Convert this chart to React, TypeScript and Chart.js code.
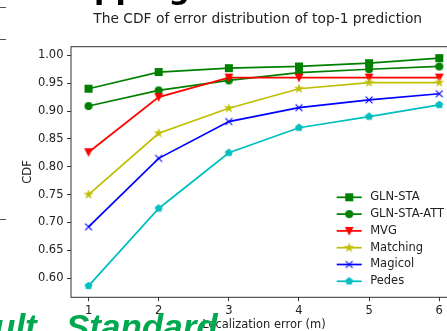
import React, { useEffect, useRef } from 'react';
import { Chart, registerables } from 'chart.js';

Chart.register(...registerables);

// ---- data ----
const errorMeters = [1, 2, 3, 4, 5, 6];
const glnSta = [0.94, 0.97, 0.977, 0.98, 0.986, 0.995];
const glnStaAtt = [0.909, 0.937, 0.955, 0.969, 0.975, 0.98];
const mvg = [0.826, 0.925, 0.96, 0.96, 0.96, 0.96];
const matching = [0.75, 0.86, 0.905, 0.94, 0.951, 0.951];
const magicol = [0.692, 0.815, 0.881, 0.906, 0.92, 0.931];
const pedes = [0.586, 0.725, 0.825, 0.87, 0.89, 0.911];

const seriesLabels = ['GLN-STA', 'GLN-STA-ATT', 'MVG', 'Matching', 'Magicol', 'Pedes'];
const seriesValues = [glnSta, glnStaAtt, mvg, matching, magicol, pedes];
const seriesColors = ['#008000', '#008000', '#ff0000', '#bfbf00', '#0000ff', '#00bfbf'];
const seriesMarkers = ['square', 'circle', 'triangleDown', 'star', 'x', 'pentagon'];

const xTickValues = [1, 2, 3, 4, 5, 6];
const yTickValues = [0.6, 0.65, 0.7, 0.75, 0.8, 0.85, 0.9, 0.95, 1.0];

const chartTitle = 'The CDF of error distribution of top-1 prediction';
const xTitle = 'Localization error (m)';
const yTitle = 'CDF';

const FONT = '"DejaVu Sans", sans-serif';
const TEXT = '#222';

function makeMarker(kind: string, color: string): HTMLCanvasElement {
  const c = document.createElement('canvas');
  c.width = 14;
  c.height = 14;
  const g = c.getContext('2d')!;
  const cx = 7, cy = 7, s = 6.9, h = s / 2;
  g.fillStyle = color;
  g.strokeStyle = color;
  g.lineWidth = 1.15;
  g.lineJoin = 'miter';
  g.beginPath();
  if (kind === 'square') {
    g.rect(cx - h, cy - h, s, s);
  } else if (kind === 'circle') {
    g.arc(cx, cy, h, 0, Math.PI * 2);
  } else if (kind === 'triangleDown') {
    g.moveTo(cx - h, cy - h);
    g.lineTo(cx + h, cy - h);
    g.lineTo(cx, cy + h);
    g.closePath();
  } else if (kind === 'star') {
    for (let i = 0; i < 10; i++) {
      const r = i % 2 ? h * 0.381966 : h;
      const a = -Math.PI / 2 + (i * Math.PI) / 5;
      const px = cx + r * Math.cos(a), py = cy + r * Math.sin(a);
      if (i === 0) g.moveTo(px, py); else g.lineTo(px, py);
    }
    g.closePath();
  } else if (kind === 'pentagon') {
    for (let i = 0; i < 5; i++) {
      const a = -Math.PI / 2 + (i * 2 * Math.PI) / 5;
      const px = cx + h * Math.cos(a), py = cy + h * Math.sin(a);
      if (i === 0) g.moveTo(px, py); else g.lineTo(px, py);
    }
    g.closePath();
  } else if (kind === 'x') {
    g.moveTo(cx - h, cy - h);
    g.lineTo(cx + h, cy + h);
    g.moveTo(cx + h, cy - h);
    g.lineTo(cx - h, cy + h);
  }
  if (kind !== 'x') g.fill();
  g.stroke();
  return c;
}

export default function App() {
  const ref = useRef<HTMLCanvasElement | null>(null);

  useEffect(() => {
    const canvas = ref.current;
    if (!canvas) return;
    const markers = seriesMarkers.map((m, i) => makeMarker(m, seriesColors[i]));

    const framePlugin = {
      id: 'frame',
      afterDraw(chart: any) {
        const { ctx, chartArea: a } = chart;
        ctx.save();
        ctx.strokeStyle = '#333';
        ctx.lineWidth = 1;
        ctx.strokeRect(a.left, a.top, a.right - a.left, a.bottom - a.top);
        ctx.restore();
      },
    };

    const titlePlugin = {
      id: 'mplTitle',
      afterDraw(chart: any) {
        const { ctx } = chart;
        ctx.save();
        ctx.fillStyle = TEXT;
        ctx.font = `13.8px ${FONT}`;
        ctx.textAlign = 'center';
        ctx.textBaseline = 'middle';
        ctx.fillText(chartTitle, 257.7, 19.5);
        ctx.restore();
      },
    };

    const legendPlugin = {
      id: 'mplLegend',
      afterDraw(chart: any) {
        const { ctx, chartArea: a } = chart;
        const ds = chart.data.datasets;
        const n = ds.length;
        const rowH = 16.8;
        const lastY = a.bottom - 16;
        const x0 = a.right - 120.1;
        const x1 = x0 + 25;
        const tx = x1 + 8.5;
        ctx.save();
        ds.forEach((d: any, i: number) => {
          const y = lastY - (n - 1 - i) * rowH;
          ctx.strokeStyle = d.borderColor;
          ctx.lineWidth = 1.73;
          ctx.beginPath();
          ctx.moveTo(x0, y);
          ctx.lineTo(x1, y);
          ctx.stroke();
          const m = markers[i];
          ctx.drawImage(m, (x0 + x1) / 2 - m.width / 2, y - m.height / 2);
          ctx.fillStyle = TEXT;
          ctx.font = `11.5px ${FONT}`;
          ctx.textAlign = 'left';
          ctx.textBaseline = 'middle';
          ctx.fillText(d.label, tx, y);
        });
        ctx.restore();
      },
    };

    const n = seriesLabels.length;
    const chart = new Chart(canvas, {
      type: 'line',
      data: {
        datasets: seriesLabels.map((label, i) => ({
          label,
          data: errorMeters.map((x, j) => ({ x, y: seriesValues[i][j] })),
          borderColor: seriesColors[i],
          backgroundColor: seriesColors[i],
          borderWidth: 1.73,
          pointStyle: markers[i] as any,
          pointRadius: 4,
          pointHoverRadius: 4,
          tension: 0,
          fill: false,
          order: n - i,
          clip: false as any,
        })),
      },
      options: {
        animation: false,
        responsive: false,
        devicePixelRatio: 1,
        events: [],
        layout: { padding: { top: 46.7, right: 13.2, bottom: 0, left: 0 } },
        plugins: {
          legend: { display: false },
          title: { display: false },
          tooltip: { enabled: false },
        },
        scales: {
          x: {
            type: 'linear',
            min: 0.75,
            max: 6.25,
            afterBuildTicks: (s: any) => {
              s.ticks = xTickValues.map((v) => ({ value: v }));
            },
            afterFit: (s: any) => {
              s.height = 33.7;
            },
            grid: { drawOnChartArea: false, drawTicks: true, tickLength: 4, color: '#333', lineWidth: 1 },
            border: { display: false },
            ticks: {
              font: { family: FONT, size: 11.5 },
              color: TEXT,
              padding: 3,
              maxRotation: 0,
              autoSkip: false,
              callback: (v: any) => String(v),
            },
            title: {
              display: true,
              text: xTitle,
              font: { family: FONT, size: 11.5, lineHeight: 1 },
              color: TEXT,
              padding: { top: 0, bottom: 0 },
            },
          },
          y: {
            type: 'linear',
            min: 0.5655,
            max: 1.0155,
            afterBuildTicks: (s: any) => {
              s.ticks = yTickValues.map((v) => ({ value: v }));
            },
            afterFit: (s: any) => {
              s.width = 71;
            },
            grid: { drawOnChartArea: false, drawTicks: true, tickLength: 4, color: '#333', lineWidth: 1 },
            border: { display: false },
            ticks: {
              font: { family: FONT, size: 11.5 },
              color: TEXT,
              padding: 3.5,
              autoSkip: false,
              callback: (v: any) => Number(v).toFixed(2),
            },
            title: {
              display: true,
              text: yTitle,
              font: { family: FONT, size: 11.5, lineHeight: 1.2 },
              color: TEXT,
              padding: { top: 21.1, bottom: 0 },
            },
          },
        },
      } as any,
      plugins: [framePlugin, legendPlugin, titlePlugin],
    });
    return () => chart.destroy();
  }, []);

  const tick = (top: number) => (
    <div style={{ position: 'absolute', left: 0, top, width: 6, height: 1, background: '#555' }} />
  );

  return (
    <div style={{ position: 'fixed', left: 0, top: 0, width: 447, height: 331, overflow: 'hidden', background: '#fff' }}>
      <canvas ref={ref} width={470} height={331} style={{ position: 'absolute', left: 0, top: 0, width: 470, height: 331 }} />
      <span
        style={{
          position: 'absolute', left: 94, top: -26.4, fontFamily: FONT, fontWeight: 'bold',
          fontSize: 30, lineHeight: 1, color: '#000', whiteSpace: 'nowrap',
        }}
      >
        pping
      </span>
      {tick(6.5)}
      {tick(38.8)}
      {tick(218.5)}
      <span
        style={{
          position: 'absolute', left: -6, top: 308.9, fontFamily: '"Liberation Sans", Arial, sans-serif',
          fontWeight: 'bold', fontStyle: 'italic', fontSize: 35, lineHeight: 1, color: '#00a84f', whiteSpace: 'nowrap',
        }}
      >
        ult
      </span>
      <span
        style={{
          position: 'absolute', left: 66, top: 308.9, fontFamily: '"Liberation Sans", Arial, sans-serif',
          fontWeight: 'bold', fontStyle: 'italic', fontSize: 35, lineHeight: 1, color: '#00a84f', whiteSpace: 'nowrap',
        }}
      >
        Standard
      </span>
    </div>
  );
}
